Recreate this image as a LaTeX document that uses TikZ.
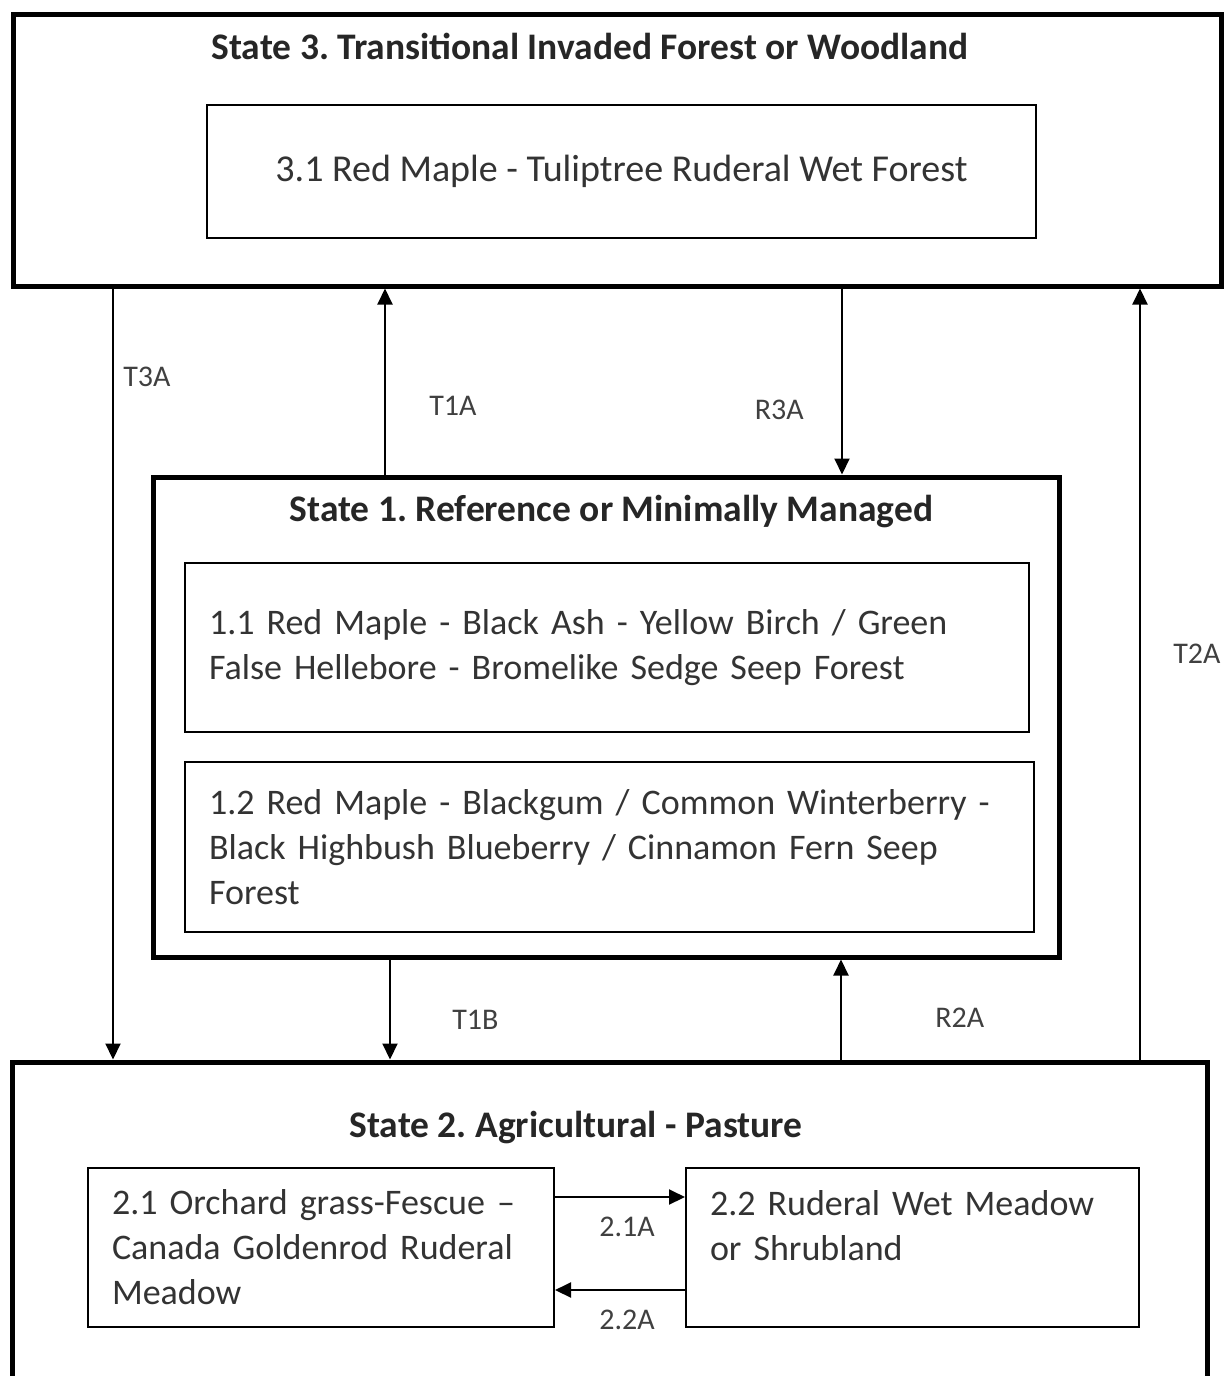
\documentclass[tikz,border=0pt]{standalone}
\usepackage{fontspec}
\setmainfont{Carlito}
\usetikzlibrary{shapes,arrows.meta,positioning,calc}
\frenchspacing

\begin{document}
\begin{tikzpicture}[x=1pt, y=-1pt, >={Triangle[length=16pt,width=15pt]},
    statebox/.style={draw, line width=5pt, inner sep=0pt},
    phasebox/.style={draw, line width=2pt, inner xsep=24pt, inner ysep=0pt, align=left,
      font=\fontsize{36}{45}\selectfont, text=black!80},
    statetitle/.style={font=\bfseries\fontsize{37.5}{42}\selectfont, text=black!85},
    trans/.style={->, line width=2pt},
    translabel/.style={font=\fontsize{30}{36}\selectfont, text=black!75}]
        \useasboundingbox (0,0) rectangle (1225,1376);
        \clip (0,0) rectangle (1225,1376);

        % State 3 (top)
        \node[statebox, minimum width=1208pt, minimum height=272pt] (s3) at (617,150) {};
        \node[statetitle] (s3title) at (590,46) {State 3. Transitional Invaded Forest or Woodland};
        \node[phasebox, align=center, font=\fontsize{38}{45}\selectfont, minimum width=829pt, minimum height=133pt] (p31) at (621.5,171.5)
            {3.1 Red Maple - Tuliptree Ruderal Wet Forest};

        % State 1 (middle)
        \node[statebox, minimum width=906pt, minimum height=480pt] (s1) at (606,717) {};
        \node[statetitle] (s1title) at (611.5,512) {State 1. Reference or Minimally Managed};
        \node[phasebox, text width=796pt, minimum height=169pt] (p11) at (607,647.5)
            {1.1 Red Maple - Black Ash - Yellow Birch / Green\\False Hellebore - Bromelike Sedge Seep Forest};
        \node[phasebox, text width=801pt, minimum height=170pt] (p12) at (609.5,847)
            {1.2 Red Maple - Blackgum / Common Winterberry -\\Black Highbush Blueberry / Cinnamon Fern Seep\\Forest};

        % State 2 (bottom, runs off the page)
        \node[statebox, minimum width=1195pt, minimum height=400pt] (s2) at (609.5,1262) {};
        \node[statetitle] (s2title) at (576,1128) {State 2. Agricultural - Pasture};
        \node[phasebox, text width=418pt, minimum height=159pt] (p21) at (321,1247.5)
            {2.1 Orchard grass-Fescue --\\Canada Goldenrod Ruderal\\Meadow};
        \node[phasebox, text width=405pt, minimum height=159pt] (p22) at (912.5,1247.5)
            {2.2 Ruderal Wet Meadow\\or Shrubland\\\mbox{}};

        % x positions of the vertical transitions
        \coordinate (xT3A) at (113,0);
        \coordinate (xT1A) at (385,0);
        \coordinate (xR3A) at (842,0);
        \coordinate (xT2A) at (1140,0);
        \coordinate (xT1B) at (390,0);
        \coordinate (xR2A) at (841,0);
        \coordinate (y21A) at (0,1197);
        \coordinate (y22A) at (0,1290);

        % Transitions between states
        \draw[trans] (s3.south -| xT3A) -- (s2.north -| xT3A) node[translabel, pos=0.115, right=6pt] {T3A};
        \draw[trans] (s1.north -| xT1A) -- (s3.south -| xT1A) node[translabel, pos=0.37, right=40pt] {T1A};
        \draw[trans] (s3.south -| xR3A) -- (s1.north -| xR3A) node[translabel, pos=0.65, left=34pt] {R3A};
        \draw[trans] (s2.north -| xT2A) -- (s3.south -| xT2A) node[translabel, pos=0.526, right=29pt] {T2A};
        \draw[trans] (s1.south -| xT1B) -- (s2.north -| xT1B) node[translabel, pos=0.6, right=58pt] {T1B};
        \draw[trans] (s2.north -| xR2A) -- (s1.south -| xR2A) node[translabel, pos=0.42, right=90pt] {R2A};

        % Pathways inside State 2
        \draw[trans] (p21.east |- y21A) -- (p22.west |- y21A) node[translabel, midway, below=16pt, xshift=7pt] {2.1A};
        \draw[trans] (p22.west |- y22A) -- (p21.east |- y22A) node[translabel, midway, below=16pt, xshift=7pt] {2.2A};

    \end{tikzpicture}
\end{document}
